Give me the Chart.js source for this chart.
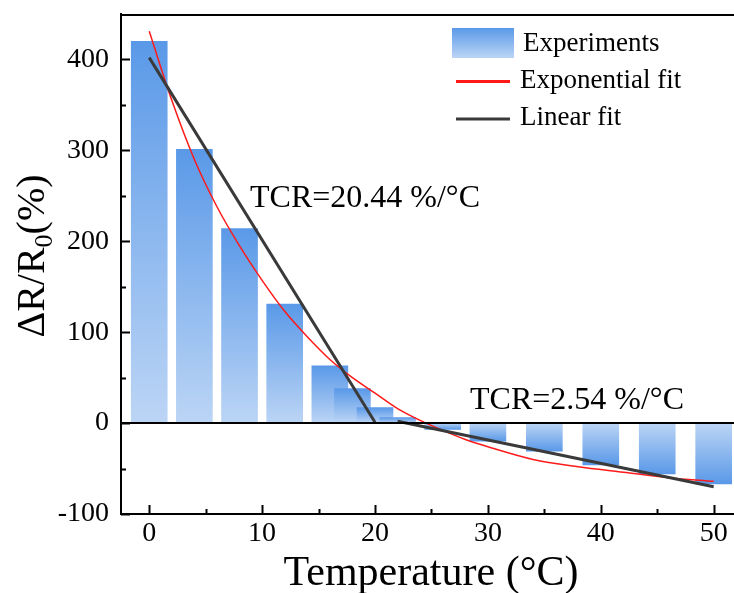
<!DOCTYPE html>
<html>
<head>
<meta charset="utf-8">
<script src="https://cdn.jsdelivr.net/npm/chart.js@4/dist/chart.umd.min.js"></script>
<style>
  html, body { margin: 0; padding: 0; background: #fff; }
  canvas { display: block; }
</style>
</head>
<body>
<canvas id="tcrChart" width="734" height="593"></canvas>
<script>
// experiment bars
const temps = [0, 4, 8, 12, 16, 18, 20, 22, 26, 30, 35, 40, 45, 50];
const deltaR = [420, 301, 214, 131, 63, 38, 17, 6, -7, -20, -31, -46, -56, -67];

// exponential fit
const expX = [0, 2, 4, 6, 8, 10, 12, 14, 16, 18, 20, 22, 24, 26, 28, 30, 34, 38, 42, 46, 50];
const expY = [431, 355, 290, 238, 195, 157, 123, 95, 70, 50, 33, 16, 3, -8, -18, -26, -40, -48, -54, -60, -64];

// linear fit, two pieces with a gap
const linX = [0, 20, 21, 22, 50];
const linY = [402, 1, null, 2, -70];

const xTicks = [0, 10, 20, 30, 40, 50];
const yTicks = [-100, 0, 100, 200, 300, 400];

const SERIF = "'Liberation Serif', 'Times New Roman', serif";
const DARK_BLUE = '#5a99e8';
const LIGHT_BLUE = '#bcd5f5';

function barGradient(context) {
    const chart = context.chart;
    const { ctx, scales } = chart;
    if (!scales.y || !context.raw) return DARK_BLUE;
    const yVal = scales.y.getPixelForValue(context.raw.y);
    const yBase = scales.y.getPixelForValue(0);
    if (!Number.isFinite(yVal) || !Number.isFinite(yBase) || Math.abs(yVal - yBase) < 1) return DARK_BLUE;
    const g = ctx.createLinearGradient(0, yVal, 0, yBase);
    g.addColorStop(0, DARK_BLUE);
    g.addColorStop(1, LIGHT_BLUE);
    return g;
}

const decorPlugin = {
    id: 'decor',
    afterDatasetsDraw(chart) {
        const { ctx, chartArea, scales } = chart;
        const sx = scales.x, sy = scales.y;
        ctx.save();
        ctx.strokeStyle = '#000';
        ctx.lineWidth = 2;

        // zero line and top frame
        const y0 = sy.getPixelForValue(0);
        ctx.beginPath();
        ctx.moveTo(chartArea.left, y0);
        ctx.lineTo(chartArea.right, y0);
        ctx.moveTo(chartArea.left, chartArea.top + 1);
        ctx.lineTo(chartArea.right, chartArea.top + 1);
        ctx.stroke();

        // inside ticks
        ctx.beginPath();
        for (let v = -100; v <= 400; v += 50) {
            const y = Math.round(sy.getPixelForValue(v)) + 0.5;
            const len = v % 100 === 0 ? 9 : 5;
            ctx.moveTo(chartArea.left, y);
            ctx.lineTo(chartArea.left + len, y);
        }
        for (let v = 0; v <= 50; v += 5) {
            const x = Math.round(sx.getPixelForValue(v)) + 0.5;
            const len = v % 10 === 0 ? 9 : 5;
            ctx.moveTo(x, chartArea.bottom);
            ctx.lineTo(x, chartArea.bottom - len);
        }
        ctx.stroke();
        ctx.restore();
    },
    afterDraw(chart) {
        const { ctx } = chart;
        ctx.save();
        ctx.fillStyle = '#000';
        ctx.textBaseline = 'alphabetic';

        // x title
        ctx.font = `42px ${SERIF}`;
        ctx.textAlign = 'center';
        ctx.fillText('Temperature (°C)', 431, 585);

        // y title with subscript
        ctx.translate(44, 256);
        ctx.rotate(-Math.PI / 2);
        ctx.textAlign = 'left';
        const big = `40px ${SERIF}`, small = `26px ${SERIF}`;
        ctx.font = big;
        const w1 = ctx.measureText('ΔR/R').width;
        const w3 = ctx.measureText('(%)').width;
        ctx.font = small;
        const w2 = ctx.measureText('0').width;
        let x = -(w1 + w2 + w3) / 2;
        ctx.font = big;
        ctx.fillText('ΔR/R', x, 0);
        x += w1;
        ctx.font = small;
        ctx.fillText('0', x, 8);
        x += w2;
        ctx.font = big;
        ctx.fillText('(%)', x, 0);
        ctx.setTransform(1, 0, 0, 1, 0, 0);

        // annotations
        ctx.font = `32px ${SERIF}`;
        ctx.textAlign = 'left';
        ctx.fillText('TCR=20.44 %/°C', 250, 207);
        ctx.fillText('TCR=2.54 %/°C', 470, 409);

        // legend
        const g = ctx.createLinearGradient(0, 28, 0, 58);
        g.addColorStop(0, DARK_BLUE);
        g.addColorStop(1, LIGHT_BLUE);
        ctx.fillStyle = g;
        ctx.fillRect(452, 28, 62, 30);

        ctx.lineWidth = 3;
        ctx.strokeStyle = '#ff1a1a';
        ctx.beginPath();
        ctx.moveTo(456, 81.5);
        ctx.lineTo(510, 81.5);
        ctx.stroke();
        ctx.strokeStyle = '#3a3a3a';
        ctx.beginPath();
        ctx.moveTo(456, 119);
        ctx.lineTo(510, 119);
        ctx.stroke();

        ctx.fillStyle = '#000';
        ctx.font = `27px ${SERIF}`;
        ctx.textBaseline = 'middle';
        ctx.fillText('Experiments', 523, 44);
        ctx.fillText('Exponential fit', 520, 81);
        ctx.fillText('Linear fit', 520, 118);
        ctx.restore();
    }
};

new Chart(document.getElementById('tcrChart'), {
    type: 'bar',
    data: {
        datasets: [
            {
                type: 'line',
                label: 'Linear fit',
                data: linX.map((x, i) => ({ x, y: linY[i] })),
                borderColor: '#3a3a3a',
                borderWidth: 3,
                pointRadius: 0,
                spanGaps: false,
                order: 1
            },
            {
                type: 'line',
                label: 'Exponential fit',
                data: expX.map((x, i) => ({ x, y: expY[i] })),
                borderColor: '#ff1a1a',
                borderWidth: 1.5,
                pointRadius: 0,
                cubicInterpolationMode: 'monotone',
                order: 2
            },
            {
                type: 'bar',
                label: 'Experiments',
                data: temps.map((x, i) => ({ x, y: deltaR[i] })),
                backgroundColor: barGradient,
                borderWidth: 0,
                barThickness: 36,
                order: 3
            }
        ]
    },
    options: {
        responsive: false,
        animation: false,
        layout: { padding: { top: 14, right: 0, left: 0, bottom: 0 } },
        plugins: {
            legend: { display: false },
            tooltip: { enabled: false }
        },
        scales: {
            x: {
                type: 'linear',
                offset: false,
                min: -2.5,
                max: 51.8,
                afterFit: s => {
                    s.height = 79;
                    s.paddingLeft = 0;
                    s.paddingRight = 0;
                },
                afterBuildTicks: s => { s.ticks = xTicks.map(value => ({ value })); },
                grid: { display: false, drawTicks: false, offset: false },
                border: { display: true, color: '#000', width: 2 },
                ticks: {
                    color: '#000',
                    padding: 3,
                    font: { family: SERIF, size: 28 }
                }
            },
            y: {
                min: -100,
                max: 450,
                afterFit: s => {
                    s.width = 121;
                    s.paddingTop = 0;
                    s.paddingBottom = 0;
                },
                afterBuildTicks: s => { s.ticks = yTicks.map(value => ({ value })); },
                grid: { display: false, drawTicks: false },
                border: { display: true, color: '#000', width: 2 },
                ticks: {
                    color: '#000',
                    padding: 12,
                    font: { family: SERIF, size: 28 }
                }
            }
        }
    },
    plugins: [decorPlugin]
});
</script>
</body>
</html>
